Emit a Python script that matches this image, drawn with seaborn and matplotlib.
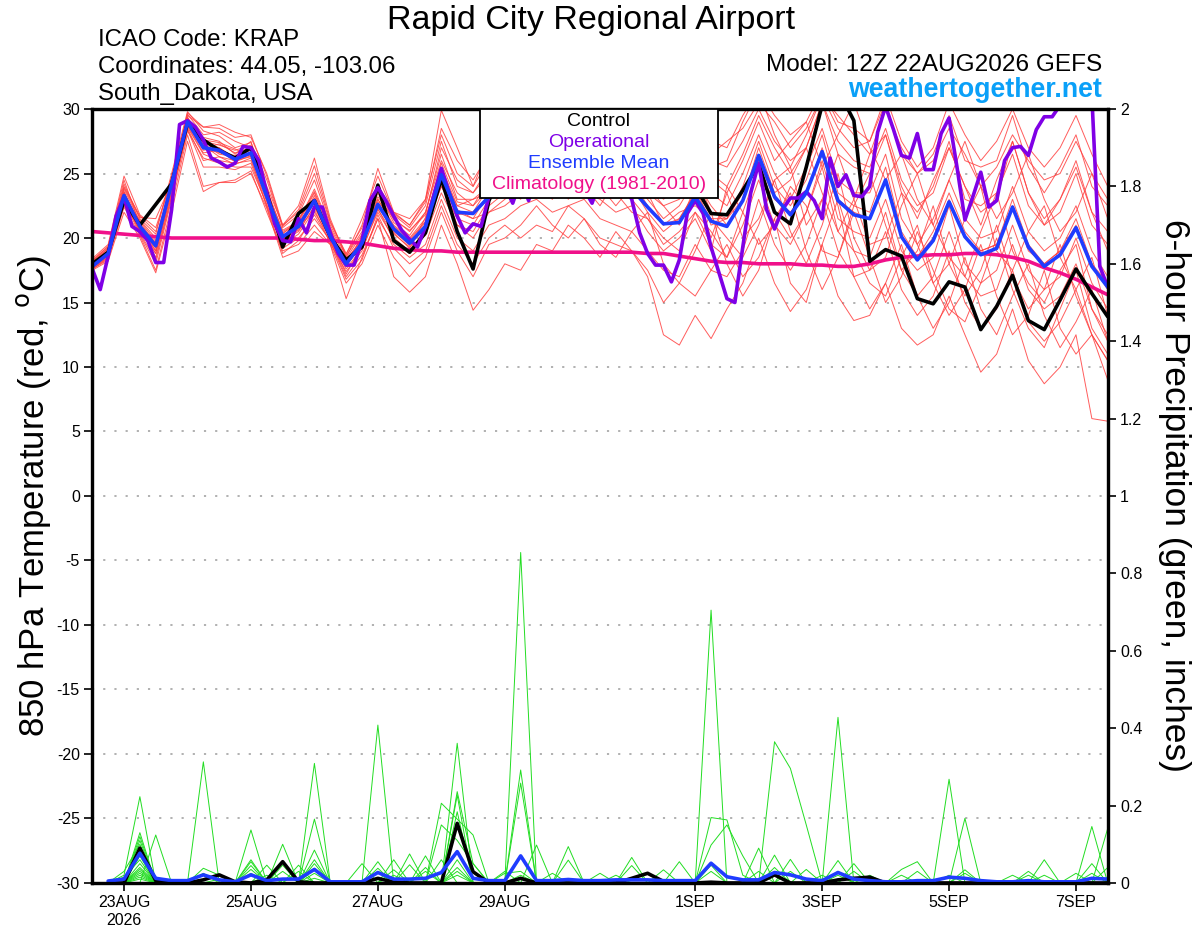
import numpy as np
import pandas as pd
import seaborn as sns
import matplotlib.pyplot as plt
from matplotlib.patches import Rectangle

# 6-hourly GEFS steps from 22AUG2026 12Z, operational is 3-hourly
times6 = pd.date_range("2026-08-22 12:00", periods=65, freq="6h")
times3 = pd.date_range("2026-08-22 12:00", periods=129, freq="3h")

control_t = [
    18.0, 18.9, 22.9, 21.0, 22.6, 24.2, 28.9, 27.6, 26.8, 26.2,
    27.0, 23.5, 19.3, 21.9, 22.9, 20.1, 18.3, 19.3, 24.1, 19.8,
    18.9, 20.4, 24.6, 20.5, 17.6, 22.9, 25.5, 26.0, 25.0, 24.5,
    25.5, 26.0, 25.0, 24.5, 25.0, 25.5, 24.8, 25.2, 24.0, 21.9,
    21.8, 23.7, 25.7, 22.0, 21.1, 25.5, 30.3, 31.5, 29.1, 18.2,
    19.1, 18.6, 15.3, 14.9, 16.6, 16.2, 12.9, 14.7, 17.1, 13.6,
    12.9, 15.2, 17.6, 15.7, 13.9]

mean_t = [
    17.8, 18.8, 23.3, 20.9, 19.4, 24.2, 29.0, 27.0, 26.8, 26.1,
    26.6, 23.2, 20.1, 20.9, 22.9, 20.1, 18.0, 19.6, 22.6, 20.7,
    19.6, 20.9, 24.9, 22.0, 21.9, 23.2, 24.0, 24.5, 25.0, 24.5,
    24.8, 25.2, 24.5, 24.0, 23.8, 22.4, 21.1, 21.2, 23.2, 21.3,
    20.9, 22.9, 26.4, 23.2, 21.8, 23.5, 26.7, 22.9, 21.8, 21.5,
    24.5, 20.1, 18.3, 19.8, 22.8, 20.1, 18.7, 19.2, 22.4, 19.3,
    17.8, 18.7, 20.8, 17.8, 16.2]

clim_t = [
    20.5, 20.4, 20.3, 20.2, 20.1, 20.0, 20.0, 20.0, 20.0, 20.0,
    20.0, 20.0, 20.0, 19.9, 19.8, 19.8, 19.7, 19.6, 19.4, 19.2,
    19.1, 19.0, 19.0, 18.9, 18.9, 18.9, 18.9, 18.9, 18.9, 18.9,
    18.9, 18.9, 18.9, 18.9, 18.9, 18.8, 18.8, 18.6, 18.4, 18.2,
    18.1, 18.1, 18.0, 18.0, 18.0, 17.9, 17.9, 17.8, 17.8, 18.0,
    18.3, 18.5, 18.6, 18.7, 18.7, 18.8, 18.8, 18.7, 18.5, 18.2,
    17.7, 17.3, 16.8, 16.2, 15.6]

oper_t = [
    17.6, 16.0, 18.6, 21.7, 23.2, 20.9, 20.5, 19.8, 18.1, 18.1,
    22.2, 28.8, 29.1, 28.6, 27.6, 26.2, 25.9, 25.5, 25.8, 27.1,
    27.0, 26.0, 23.5, 21.1, 19.8, 19.7, 21.5, 20.4, 22.4, 22.4,
    20.4, 18.8, 17.9, 17.9, 19.8, 22.9, 23.9, 22.9, 21.7, 20.6,
    19.9, 19.3, 20.9, 23.2, 25.4, 23.5, 21.7, 20.4, 21.1, 20.9,
    23.2, 24.5, 24.0, 22.7, 24.5, 22.9, 24.8, 25.5, 24.5, 25.0,
    24.0, 24.5, 23.8, 22.7, 24.5, 25.0, 24.5, 24.0, 23.0, 20.4,
    18.8, 17.9, 17.9, 16.6, 18.3, 21.9, 22.9, 21.9, 19.3, 17.3,
    15.3, 15.0, 19.3, 23.5, 25.8, 22.2, 20.7, 22.2, 23.1, 23.1,
    23.6, 22.9, 21.5, 26.2, 24.0, 24.9, 23.3, 23.2, 24.0, 28.2,
    30.2, 28.4, 26.4, 26.2, 28.1, 25.3, 25.3, 28.1, 29.3, 25.5,
    21.4, 23.2, 25.1, 22.4, 22.9, 26.0, 27.0, 27.1, 26.4, 28.4,
    29.4, 29.4, 30.3, 32.0, 33.0, 32.0, 31.0, 17.8, 16.2]

# ensemble members, 850 hPa temperature
t01 = [18.2, 19.4, 24.2, 21.5, 20.3, 25.0, 29.8, 28.3, 27.9, 27.0,
       27.4, 24.5, 20.8, 21.8, 24.5, 21.0, 18.6, 20.5, 24.2, 21.8,
       20.8, 22.5, 27.5, 24.0, 23.5, 25.5, 27.0, 27.5, 28.5, 27.0,
       27.8, 28.0, 26.5, 27.0, 26.5, 25.5, 24.0, 24.5, 27.0, 25.0,
       24.0, 26.5, 29.5, 27.0, 25.0, 27.0, 30.5, 27.5, 26.0, 25.5,
       28.5, 24.5, 22.5, 23.5, 27.0, 24.0, 22.0, 23.0, 27.5, 23.5,
       21.5, 23.0, 25.5, 22.0, 20.5]
t02 = [17.6, 18.3, 22.4, 20.2, 17.5, 22.5, 28.0, 24.0, 24.3, 24.5,
       25.2, 22.0, 19.0, 19.5, 21.0, 19.5, 16.5, 18.0, 21.0, 18.5,
       17.0, 18.5, 22.0, 19.0, 17.0, 19.5, 20.0, 21.0, 22.5, 21.0,
       20.0, 21.5, 19.5, 18.5, 20.5, 22.0, 18.0, 16.5, 15.5, 17.5,
       19.5, 17.0, 18.5, 21.5, 16.5, 15.0, 19.5, 23.0, 19.0, 16.5,
       15.5, 18.5, 21.0, 16.5, 14.0, 16.0, 19.5, 15.5, 12.5, 14.0,
       17.5, 13.0, 11.0, 12.5, 9.0]
t03 = [17.9, 19.0, 23.8, 21.3, 19.8, 24.6, 29.3, 27.5, 27.2, 26.8,
       27.2, 23.8, 20.5, 21.2, 23.5, 20.3, 18.2, 20.0, 23.2, 21.5,
       20.5, 22.0, 26.0, 23.5, 22.5, 24.5, 26.5, 25.0, 27.5, 26.0,
       28.5, 27.0, 29.0, 27.5, 28.5, 26.0, 27.5, 25.5, 29.0, 26.5,
       27.5, 28.5, 30.5, 29.0, 27.0, 28.5, 31.0, 29.5, 28.0, 26.5,
       30.0, 27.0, 25.0, 26.0, 28.5, 26.5, 24.0, 25.5, 28.0, 26.0,
       24.5, 25.0, 27.5, 25.0, 23.0]
t04 = [17.7, 18.6, 23.0, 20.6, 19.0, 23.8, 28.6, 26.5, 26.0, 25.8,
       26.0, 22.8, 19.8, 20.5, 22.5, 19.8, 17.6, 19.2, 22.0, 20.0,
       19.0, 20.5, 24.5, 21.0, 20.5, 22.5, 23.5, 25.5, 24.0, 23.0,
       25.0, 24.0, 22.5, 24.5, 23.0, 21.5, 20.0, 19.0, 22.0, 19.5,
       18.5, 21.0, 24.5, 21.0, 19.5, 22.0, 25.5, 20.5, 19.0, 18.5,
       22.0, 17.5, 15.5, 17.0, 20.5, 17.0, 15.5, 16.0, 19.5, 16.0,
       14.5, 15.5, 18.0, 14.5, 12.5]
t05 = [18.4, 19.5, 24.8, 21.8, 20.8, 24.5, 29.5, 28.6, 28.8, 28.2,
       27.8, 25.0, 21.0, 22.5, 26.2, 21.5, 18.5, 21.0, 25.4, 22.0,
       21.0, 23.0, 29.9, 27.0, 24.0, 27.0, 28.0, 29.5, 30.5, 28.0,
       29.0, 30.0, 28.5, 29.5, 28.0, 27.0, 25.5, 26.0, 28.5, 25.5,
       26.0, 29.0, 31.5, 28.0, 25.5, 28.0, 31.0, 28.5, 27.0, 27.5,
       31.0, 27.5, 25.5, 27.0, 30.5, 28.0, 26.0, 27.5, 30.0, 27.0,
       25.5, 27.0, 29.5, 26.5, 24.0]
t06 = [17.5, 18.2, 22.0, 20.0, 17.3, 22.0, 27.5, 23.6, 24.3, 24.3,
       25.0, 22.3, 18.5, 19.0, 20.5, 19.5, 15.3, 18.5, 21.5, 17.0,
       15.8, 17.0, 21.0, 18.0, 14.4, 16.0, 18.0, 17.5, 19.5, 19.0,
       21.0, 20.0, 18.5, 20.5, 19.0, 17.0, 12.5, 11.7, 14.0, 12.2,
       14.5, 16.5, 20.0, 16.5, 14.3, 16.0, 19.5, 15.5, 13.6, 14.0,
       16.5, 13.0, 11.7, 12.5, 15.5, 12.5, 9.6, 11.0, 14.5, 10.5,
       8.7, 10.0, 12.5, 6.0, 5.8]
t07 = [18.0, 19.1, 23.5, 21.2, 19.6, 24.0, 29.2, 27.8, 27.5, 26.5,
       27.5, 23.0, 20.3, 21.5, 23.0, 20.5, 18.0, 19.8, 23.0, 21.0,
       20.0, 21.5, 25.5, 22.5, 22.0, 24.0, 25.5, 26.5, 25.0, 26.5,
       25.5, 27.0, 26.0, 25.0, 26.5, 24.0, 22.5, 23.0, 25.0, 22.0,
       21.5, 24.0, 27.5, 24.0, 22.5, 24.5, 28.0, 23.5, 22.5, 22.0,
       25.5, 20.5, 18.5, 20.5, 23.5, 20.5, 19.0, 19.5, 23.0, 19.5,
       18.0, 19.0, 21.5, 18.0, 16.0]
t08 = [17.8, 18.7, 23.2, 20.5, 18.8, 23.5, 28.8, 26.8, 27.0, 26.0,
       26.5, 23.5, 20.0, 21.0, 22.0, 20.0, 17.8, 19.5, 22.5, 20.5,
       19.5, 21.0, 24.0, 22.0, 21.5, 22.0, 23.0, 24.0, 23.5, 25.0,
       24.0, 25.5, 24.0, 22.5, 24.0, 22.0, 20.5, 21.5, 23.5, 20.0,
       23.5, 20.0, 21.5, 24.5, 25.5, 21.0, 23.0, 26.5, 23.0, 19.5,
       20.0, 23.5, 19.5, 16.5, 18.0, 21.5, 24.0, 19.0, 17.5, 20.5,
       22.5, 18.5, 16.0, 18.5, 14.0]
t09 = [18.1, 19.2, 24.0, 21.7, 20.5, 24.8, 29.6, 28.0, 28.2, 27.5,
       27.0, 24.0, 21.0, 22.0, 25.0, 21.2, 18.8, 20.8, 24.0, 22.0,
       21.5, 23.0, 28.0, 25.0, 24.0, 26.0, 28.5, 29.0, 27.5, 28.5,
       27.0, 29.0, 27.5, 28.0, 26.0, 25.0, 23.5, 24.0, 26.5, 24.5,
       23.5, 26.0, 29.0, 26.0, 27.5, 29.0, 25.5, 28.0, 30.5, 27.0,
       24.5, 26.5, 23.0, 21.0, 24.5, 27.5, 24.0, 21.5, 23.5, 26.5,
       23.0, 20.5, 22.0, 25.0, 21.5]
t10 = [17.6, 18.4, 22.8, 20.3, 18.0, 23.0, 28.4, 25.5, 25.5, 25.3,
       25.8, 22.5, 19.2, 20.0, 21.5, 19.8, 17.0, 18.7, 21.5, 19.5,
       18.5, 19.5, 23.0, 20.0, 19.0, 21.0, 21.5, 22.5, 23.0, 22.0,
       22.5, 23.0, 21.5, 21.0, 20.5, 19.0, 17.5, 17.0, 19.5, 17.5,
       17.0, 19.0, 23.0, 19.5, 17.5, 19.5, 23.0, 19.0, 17.0, 17.5,
       20.5, 16.0, 14.0, 15.5, 19.0, 15.0, 13.0, 14.5, 17.5, 13.5,
       12.0, 13.5, 16.0, 12.5, 10.5]
t11 = [17.9, 18.9, 23.6, 21.0, 19.3, 24.3, 28.9, 27.3, 26.5, 26.3,
       26.8, 23.3, 20.2, 20.8, 23.3, 20.2, 18.1, 19.7, 22.8, 20.8,
       19.8, 21.2, 25.0, 22.5, 23.0, 23.5, 24.0, 23.0, 25.5, 24.0,
       23.5, 25.0, 26.0, 24.0, 23.0, 23.5, 21.0, 22.0, 22.5, 21.5,
       20.0, 18.5, 21.0, 24.5, 20.5, 18.0, 21.0, 25.0, 20.0, 17.5,
       18.5, 22.5, 25.0, 21.0, 18.5, 17.0, 20.5, 23.5, 19.0, 16.5,
       15.0, 17.5, 19.5, 14.5, 12.0]
t12 = [18.3, 19.3, 24.5, 21.0, 19.0, 24.5, 29.4, 27.2, 26.3, 26.0,
       26.3, 23.0, 19.8, 20.7, 22.8, 20.6, 17.8, 20.2, 23.5, 21.2,
       20.2, 22.0, 26.5, 23.0, 23.0, 24.0, 25.0, 26.0, 26.5, 25.5,
       26.0, 26.5, 25.5, 26.0, 25.0, 24.5, 23.0, 24.0, 24.0, 23.5,
       22.5, 25.0, 28.0, 25.0, 23.0, 25.5, 28.5, 24.5, 23.5, 23.5,
       26.5, 21.5, 19.5, 21.5, 24.5, 21.5, 20.0, 20.5, 24.0, 20.5,
       19.0, 20.0, 22.5, 19.0, 17.0]
t13 = [17.7, 18.5, 22.6, 20.7, 18.5, 23.3, 28.3, 26.2, 25.8, 25.5,
       25.5, 22.6, 19.5, 20.3, 22.2, 19.6, 17.4, 19.0, 22.2, 20.3,
       19.3, 20.2, 23.5, 21.0, 20.0, 22.0, 22.5, 23.5, 24.5, 23.5,
       24.0, 23.5, 23.0, 22.0, 22.5, 20.5, 19.0, 20.0, 21.5, 19.0,
       24.0, 22.0, 19.5, 21.0, 24.0, 22.5, 19.0, 18.5, 22.5, 25.0,
       21.0, 17.5, 19.0, 22.5, 18.0, 15.5, 17.5, 21.0, 17.0, 14.5,
       16.0, 19.5, 15.5, 12.5, 10.5]
t14 = [18.0, 18.8, 23.0, 21.4, 20.0, 24.0, 29.0, 26.9, 27.3, 26.6,
       27.0, 23.6, 20.6, 21.3, 23.8, 20.8, 18.4, 20.3, 23.8, 21.4,
       20.6, 21.8, 27.0, 24.5, 23.5, 25.0, 26.0, 27.5, 26.5, 27.0,
       28.5, 27.5, 26.5, 27.0, 27.5, 26.5, 25.0, 25.5, 27.5, 26.0,
       25.5, 27.5, 30.0, 27.5, 26.0, 27.0, 30.5, 26.5, 25.5, 25.0,
       28.0, 23.5, 22.0, 24.0, 27.5, 23.0, 22.5, 23.5, 26.5, 22.5,
       21.0, 22.0, 25.0, 21.0, 19.5]
t15 = [17.8, 18.6, 23.1, 20.4, 18.3, 23.2, 28.5, 26.0, 26.3, 25.7,
       26.2, 22.4, 18.8, 19.8, 21.8, 19.7, 16.8, 18.3, 21.8, 19.2,
       18.0, 19.0, 22.5, 19.5, 18.0, 20.0, 21.0, 20.0, 21.0, 20.5,
       22.5, 21.5, 20.0, 19.5, 19.0, 17.5, 15.0, 16.5, 19.0, 22.0,
       18.0, 15.5, 17.5, 21.5, 23.5, 19.0, 16.0, 18.5, 22.0, 18.5,
       15.0, 17.0, 20.5, 17.5, 14.5, 13.5, 16.5, 20.0, 16.0, 13.0,
       11.5, 14.5, 17.5, 13.0, 11.0]
t16 = [18.2, 19.2, 23.9, 21.6, 21.5, 24.3, 29.7, 28.6, 28.5, 27.8,
       28.0, 24.8, 20.9, 22.2, 25.6, 21.3, 18.7, 21.5, 24.8, 21.9,
       21.0, 22.8, 28.5, 26.0, 24.5, 26.5, 27.5, 28.0, 29.0, 29.5,
       28.0, 28.5, 30.0, 28.5, 29.0, 28.0, 26.5, 27.5, 29.5, 27.5,
       27.0, 29.5, 31.5, 29.5, 28.0, 29.0, 31.5, 29.0, 28.5, 27.5,
       30.5, 26.5, 25.0, 26.5, 29.5, 26.0, 25.5, 26.0, 29.5, 25.5,
       23.5, 25.5, 28.0, 24.0, 22.5]
t17 = [17.6, 18.5, 22.5, 20.8, 18.8, 23.6, 28.7, 26.6, 26.8, 25.9,
       26.4, 23.4, 20.0, 20.6, 22.4, 20.0, 17.2, 19.4, 22.3, 19.8,
       18.8, 20.8, 24.0, 21.5, 21.0, 23.0, 24.5, 24.5, 24.0, 25.5,
       23.0, 24.5, 24.5, 23.5, 22.0, 21.5, 19.5, 20.5, 22.0, 20.5,
       18.5, 22.0, 25.5, 22.0, 20.0, 22.0, 26.0, 21.5, 20.5, 20.0,
       23.0, 19.0, 17.5, 18.5, 22.5, 18.0, 16.5, 17.5, 21.0, 17.5,
       16.0, 17.0, 20.0, 16.5, 14.5]
t18 = [17.9, 19.0, 23.4, 21.1, 19.5, 24.4, 29.1, 27.4, 27.0, 26.2,
       26.6, 23.1, 20.4, 21.1, 23.1, 20.4, 18.3, 19.9, 23.0, 20.9,
       19.9, 21.3, 25.8, 22.8, 22.5, 23.8, 24.5, 25.5, 25.5, 24.5,
       25.5, 26.0, 25.0, 24.5, 24.5, 23.0, 21.5, 22.5, 24.5, 22.5,
       21.0, 23.0, 27.0, 23.5, 24.5, 27.0, 23.5, 20.5, 23.0, 26.5,
       28.0, 24.0, 21.5, 24.5, 27.0, 24.0, 21.0, 24.5, 27.5, 23.5,
       21.0, 23.0, 26.0, 22.0, 19.0]
t19 = [18.1, 18.9, 23.3, 20.8, 19.2, 24.1, 28.9, 27.1, 26.6, 26.4,
       26.9, 22.9, 19.9, 20.9, 22.7, 20.1, 17.9, 19.6, 22.5, 20.6,
       19.4, 20.9, 24.5, 21.8, 22.0, 23.0, 24.5, 25.0, 25.5, 24.0,
       25.0, 25.0, 24.5, 24.0, 24.5, 22.5, 21.0, 21.5, 23.5, 21.5,
       21.5, 23.0, 26.5, 23.0, 22.0, 23.5, 27.0, 23.0, 22.0, 21.5,
       24.5, 20.0, 18.5, 20.0, 23.0, 20.0, 19.0, 19.5, 22.5, 19.0,
       18.0, 19.0, 21.0, 18.0, 16.5]
t20 = [17.7, 18.7, 23.6, 20.6, 19.7, 24.0, 29.3, 27.6, 27.4, 26.9,
       26.3, 23.7, 20.1, 21.4, 23.6, 20.7, 17.9, 19.4, 22.7, 20.4,
       19.2, 21.6, 25.3, 22.2, 21.5, 23.5, 24.0, 24.5, 25.5, 25.0,
       24.5, 25.5, 24.0, 25.5, 25.0, 23.5, 22.5, 21.0, 24.0, 21.0,
       21.5, 23.5, 26.0, 23.0, 22.0, 23.5, 26.5, 22.5, 17.0, 14.5,
       16.5, 19.5, 15.5, 13.0, 15.0, 18.5, 14.5, 12.5, 15.5, 18.0,
       14.0, 11.5, 13.5, 16.0, 12.0]
temp_members = [t01, t02, t03, t04, t05, t06, t07, t08, t09, t10,
                t11, t12, t13, t14, t15, t16, t17, t18, t19, t20]

# 6-hour precipitation (inches), steps 1..64; members given as {step: value}
control_p = {3: .09, 4: .006, 7: .008, 8: .021, 9: .003, 11: .008, 12: .055,
             13: .003, 18: .012, 19: .002, 23: .154, 24: .029, 27: .012,
             34: .012, 35: .025, 36: .004, 39: .002, 43: .021, 47: .008,
             48: .012, 49: .015}
mean_p = [
    .005, .01, .077, .012, .006, .006, .021, .008, .003, .021,
    .006, .01, .01, .035, .003, .003, .003, .027, .01, .01,
    .012, .027, .081, .012, .006, .006, .07, .006, .006, .009,
    .006, .006, .008, .008, .008, .006, .006, .006, .051, .016,
    .008, .008, .027, .021, .01, .006, .027, .01, .006, .003,
    .003, .006, .006, .015, .012, .006, .003, .003, .006, .003,
    .003, .003, .012, .01]

p01 = {2: .02, 3: .223, 11: .046, 18: .038, 23: .236, 24: .05, 39: .03, 49: .02, 63: .146}
p02 = {3: .13, 10: .055, 14: .06, 20: .047, 23: .02, 27: .292, 43: .04, 52: .03}
p03 = {3: .12, 7: .038, 8: .02, 19: .034, 23: .06, 32: .025, 39: .705, 47: .02, 64: .04}
p04 = {3: .11, 10: .137, 14: .085, 22: .06, 34: .066, 45: .035, 59: .03}
p05 = {2: .03, 3: .10, 11: .02, 18: .408, 27: .015, 43: .072, 63: .025}
p06 = {3: .09, 10: .06, 14: .05, 22: .206, 23: .165, 24: .124, 39: .169, 40: .163, 41: .02, 55: .034}
p07 = {3: .08, 7: .025, 17: .05, 21: .03, 26: .025, 27: .03, 47: .428}
p08 = {3: .07, 10: .035, 18: .055, 23: .04, 37: .055, 48: .03, 60: .02}
p09 = {2: .015, 3: .06, 12: .10, 14: .165, 30: .094, 44: .061, 55: .025}
p10 = {3: .05, 8: .01, 14: .038, 22: .15, 23: .11, 24: .05, 42: .03, 51: .02}
p11 = {3: .04, 10: .045, 20: .075, 27: .258, 39: .046, 46: .02, 62: .025}
p12 = {3: .035, 12: .046, 18: .028, 23: .227, 33: .02, 43: .02, 54: .268}
p13 = {3: .03, 10: .025, 14: .025, 21: .07, 26: .03, 36: .034, 48: .05, 58: .02}
p14 = {3: .025, 12: .03, 19: .06, 28: .098, 47: .058, 63: .05}
p15 = {3: .02, 13: .046, 23: .184, 39: .098, 40: .15, 41: .07, 60: .06}
p16 = {3: .015, 13: .03, 19: .02, 27: .854, 51: .035, 52: .055}
p17 = {3: .01, 14: .012, 29: .025, 43: .365, 44: .296, 45: .15}
p18 = {4: .124, 21: .04, 23: .361, 47: .03, 59: .02}
p19 = {7: .313, 23: .03, 30: .059, 42: .09, 54: .02, 64: .141}
p20 = {14: .309, 27: .02, 34: .045, 44: .03, 55: .167}
precip_members = [p01, p02, p03, p04, p05, p06, p07, p08, p09, p10,
                  p11, p12, p13, p14, p15, p16, p17, p18, p19, p20]

tick_days = ["2026-08-23", "2026-08-25", "2026-08-27", "2026-08-29",
             "2026-09-01", "2026-09-03", "2026-09-05", "2026-09-07"]
tick_labels = ["23AUG\n2026", "25AUG", "27AUG", "29AUG", "1SEP", "3SEP", "5SEP", "7SEP"]

RED = "#ff4040"
GREEN = "#22dd22"
PURPLE = "#7f00e6"
BLUE = "#1f3cff"
MAGENTA = "#f0108a"

# long-form frames for the ensembles
steps = np.arange(1, 65)
df_t = pd.DataFrame({
    "time": np.tile(times6, len(temp_members)),
    "temp": np.concatenate(temp_members),
    "member": np.repeat(np.arange(len(temp_members)), len(times6)),
})
df_p = pd.DataFrame({
    "time": np.tile(times6[1:], len(precip_members)),
    "precip": np.concatenate([[m.get(s, 0.0) for s in steps] for m in precip_members]),
    "member": np.repeat(np.arange(len(precip_members)), len(steps)),
})
ctrl_p = pd.Series([control_p.get(s, 0.0) for s in steps], index=times6[1:])

sns.set_theme(style="white")
plt.rcParams['font.family'] = ['Liberation Sans', 'DejaVu Sans']
plt.rcParams['text.color'] = 'black'
plt.rcParams['axes.labelcolor'] = 'black'

fig, ax = plt.subplots(figsize=(12, 9.27), dpi=100)
fig.subplots_adjust(left=0.0769, right=0.9231, top=0.8824, bottom=0.0475)
ax2 = ax.twinx()

sns.lineplot(data=df_t, x="time", y="temp", units="member", estimator=None,
             color=RED, lw=0.7, alpha=0.85, ax=ax, legend=False)
sns.lineplot(x=times6, y=clim_t, color=MAGENTA, lw=2.6, ax=ax)
sns.lineplot(x=times6, y=control_t, color="black", lw=2.6, ax=ax)
sns.lineplot(x=times3, y=oper_t, color=PURPLE, lw=2.6, ax=ax)
sns.lineplot(x=times6, y=mean_t, color=BLUE, lw=2.6, ax=ax)

sns.lineplot(data=df_p, x="time", y="precip", units="member", estimator=None,
             color=GREEN, lw=0.7, ax=ax2, legend=False)
sns.lineplot(x=ctrl_p.index, y=ctrl_p.values, color="black", lw=2.6, ax=ax2)
sns.lineplot(x=times6[1:], y=mean_p, color=BLUE, lw=2.6, ax=ax2)

ax.set_xlim(times6[0], times6[-1])
ax.set_ylim(-30, 30)
ax2.set_ylim(0, 2)
ax.set_yticks(range(-30, 31, 5))
ax.set_yticklabels([str(v) for v in range(-30, 31, 5)])
p_ticks = np.round(np.arange(0, 2.01, 0.2), 1)
ax2.set_yticks(p_ticks)
ax2.set_yticklabels([f"{v:g}" for v in p_ticks])
ax.set_xticks(pd.to_datetime(tick_days))
ax.set_xticklabels(tick_labels)

ax.yaxis.grid(True, color="#aaaaaa", linestyle=(0, (1.2, 5)), lw=1.3)
ax.xaxis.grid(False)
ax.set_axisbelow(True)

for a in (ax, ax2):
    a.tick_params(axis="both", direction="out", length=6, width=1.2,
                  labelsize=11.5, colors="black", pad=3)
    for sp in a.spines.values():
        sp.set_color("black")
        sp.set_linewidth(2.3)
ax.tick_params(left=True, bottom=True)
ax2.tick_params(right=True)

ax.set_xlabel("")
ax.set_ylabel("850 hPa Temperature (red, $^{\\mathrm{o}}$C)", fontsize=25, va="center")
ax.yaxis.set_label_coords(-0.058, 0.5)
ax2.set_ylabel("6-hour Precipitation (green, inches)", fontsize=25.5, rotation=270, va="center")
ax2.yaxis.set_label_coords(1.066, 0.5)

fig.text(0.4925, 1 - 29 / 927, "Rapid City Regional Airport", ha="center", va="baseline", fontsize=24.5)
fig.text(0.082, 1 - 46 / 927, "ICAO Code: KRAP", ha="left", va="baseline", fontsize=17.3)
fig.text(0.082, 1 - 73 / 927, "Coordinates: 44.05, -103.06", ha="left", va="baseline", fontsize=17.3)
fig.text(0.082, 1 - 100 / 927, "South_Dakota, USA", ha="left", va="baseline", fontsize=17.3)
fig.text(0.9183, 1 - 71 / 927, "Model: 12Z 22AUG2026 GEFS", ha="right", va="baseline", fontsize=17.6)
fig.text(0.9183, 1 - 97 / 927, "weathertogether.net", ha="right", va="baseline",
         fontsize=19.3, fontweight="bold", color="#0aa0f8")

# legend box sitting on the top of the plot frame
fig.patches.append(Rectangle((480 / 1200, 1 - 198 / 927), 238 / 1200, 89 / 927,
                             transform=fig.transFigure, facecolor="white",
                             edgecolor="black", lw=1.3, zorder=5))
legend_items = [("Control", "black"), ("Operational", PURPLE),
                ("Ensemble Mean", BLUE), ("Climatology (1981-2010)", MAGENTA)]
for k, (txt, col) in enumerate(legend_items):
    fig.text(599 / 1200, 1 - (121 + 21.3 * k) / 927, txt, ha="center", va="center",
             fontsize=14, color=col, zorder=6)

fig.savefig("out.png", dpi=100, facecolor="white")
